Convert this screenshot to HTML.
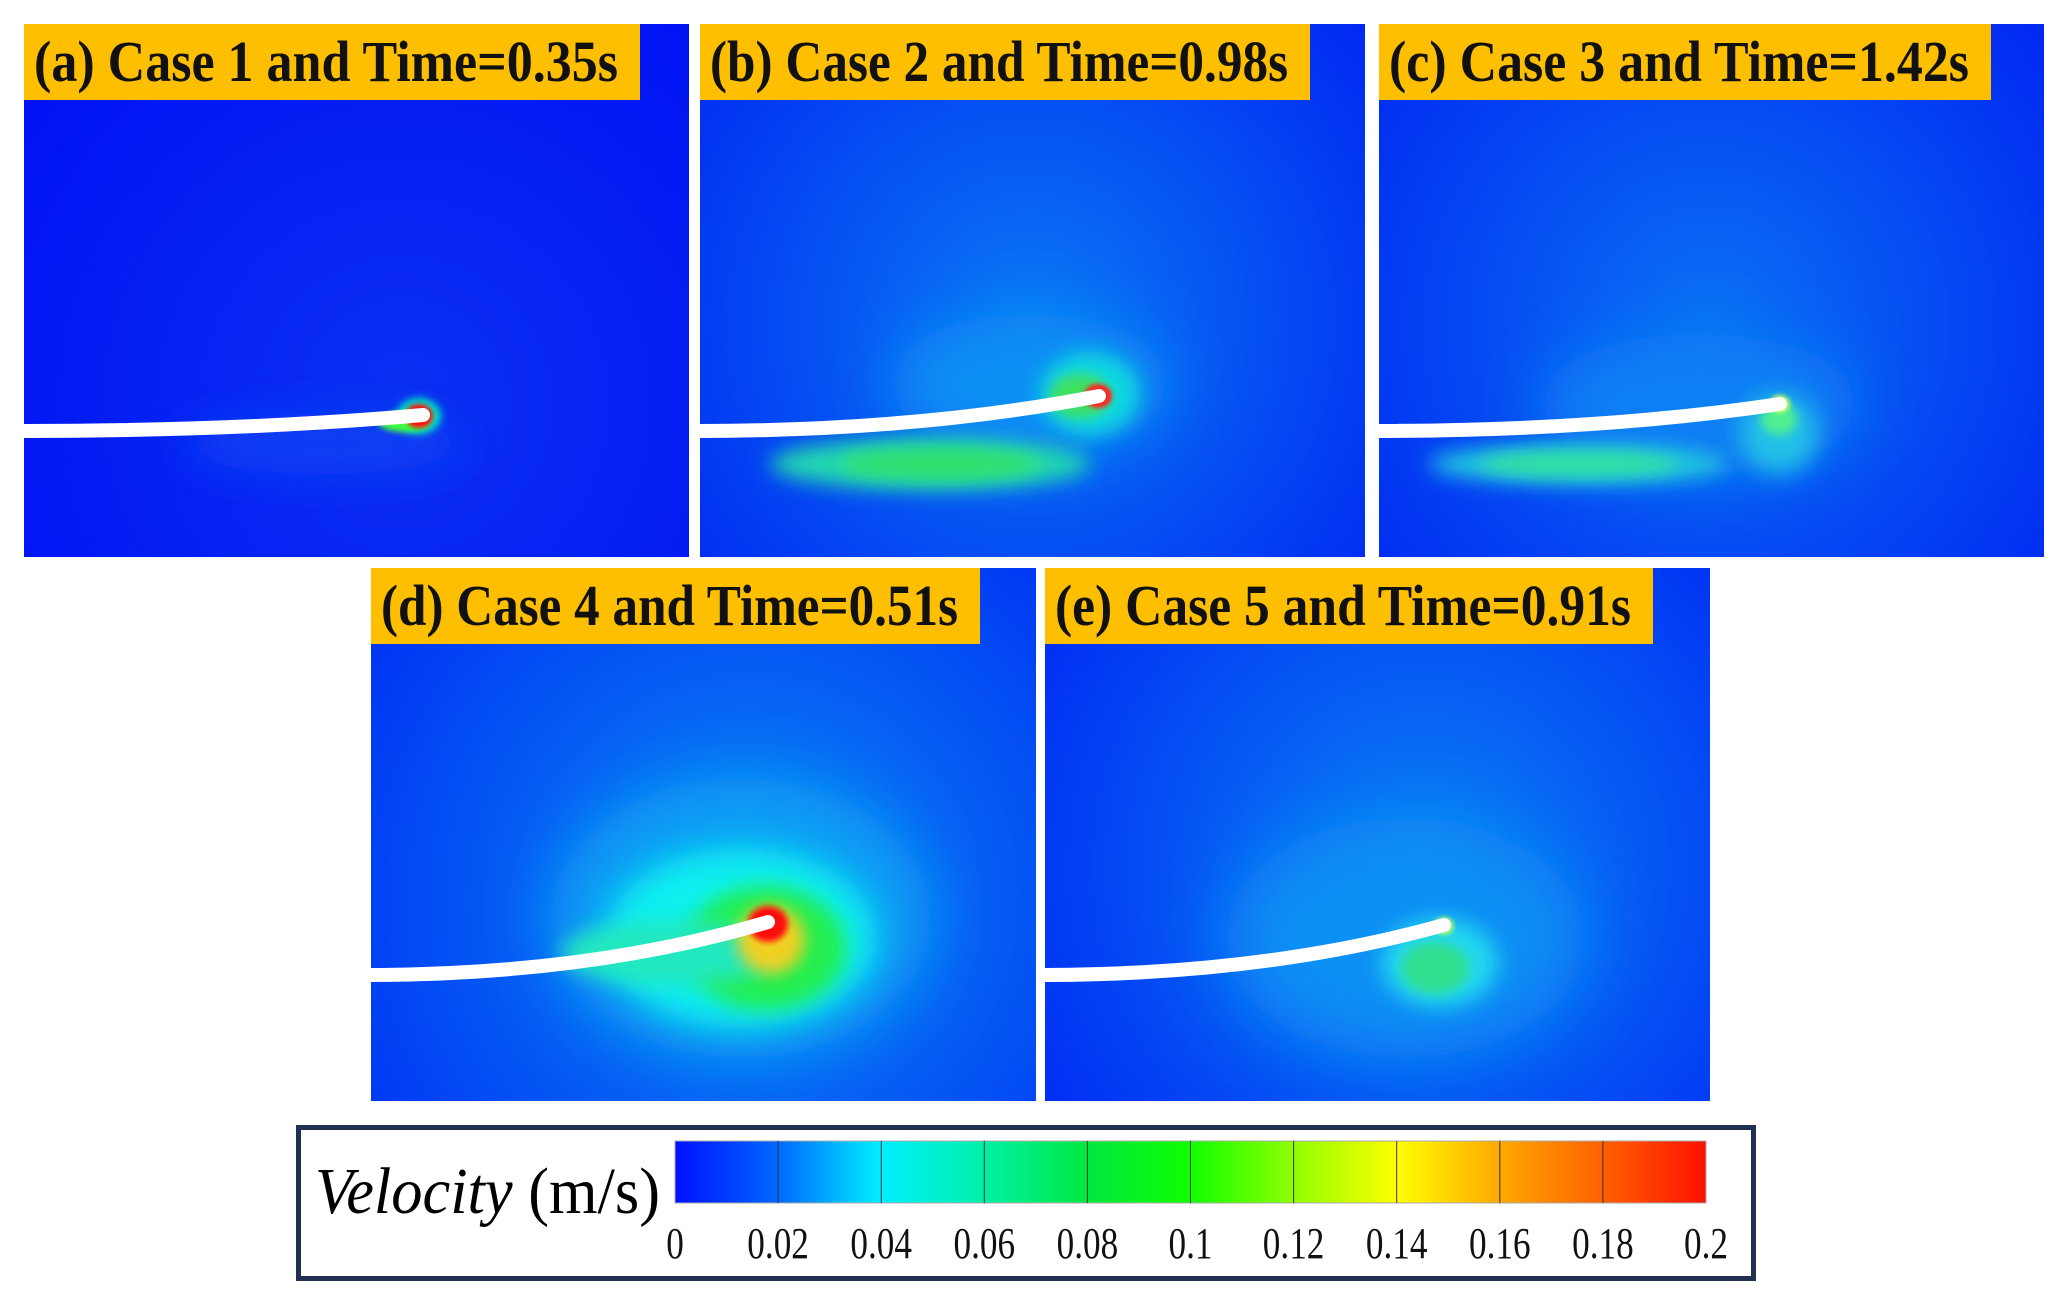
<!DOCTYPE html>
<html><head><meta charset="utf-8">
<style>
html,body{margin:0;padding:0;background:#fff;}
body{width:2060px;height:1308px;position:relative;overflow:hidden;font-family:"Liberation Serif",serif;}
.panel{position:absolute;width:665px;height:533px;overflow:hidden;}
.panel svg{position:absolute;left:0;top:0;}
.lbl{position:absolute;left:0;top:0;height:76px;background:#fdbf00;color:#111;white-space:nowrap;overflow:hidden;}
.lbl span{position:absolute;left:10px;top:4px;font-family:"Liberation Serif",serif;font-weight:bold;font-size:58px;line-height:68px;transform-origin:0 50%;display:inline-block;}
#legend{position:absolute;left:296px;top:1125px;width:1450px;height:146px;border:5px solid #1f3050;background:#fff;}
.fit{position:absolute;white-space:nowrap;transform-origin:0 50%;display:inline-block;}
</style></head>
<body>
<div id="panels"></div>
<div id="legend">
  <span class="fit" id="ltitle" style="left:14px;top:22px;font-size:66px;line-height:80px;"><i>Velocity</i> (m/s)</span>
  <svg id="cbar" width="1450" height="146" style="position:absolute;left:0;top:0"></svg>
</div>
<script>
const tickValues=[0,0.02,0.04,0.06,0.08,0.1,0.12,0.14,0.16,0.18,0.2];
const tickLabels=["0","0.02","0.04","0.06","0.08","0.1","0.12","0.14","0.16","0.18","0.2"];
const cmapStops=["#0010ff","#0068ff","#00f0ff","#00f0a8","#00e840","#10ff00","#90ff00","#ffff00","#ffa800","#ff6000","#ff1000"];
const vmin=0,vmax=0.2;
const NS="http://www.w3.org/2000/svg";
function mk(tag,attrs,parent){const e=document.createElementNS(NS,tag);for(const k in attrs)e.setAttribute(k,attrs[k]);if(parent)parent.appendChild(e);return e;}
const cb=document.getElementById('cbar');
const cbX0=374,cbX1=1405,cbY=11,cbH=62;
function xs(v){return cbX0+(v-vmin)/(vmax-vmin)*(cbX1-cbX0);}
const defs=mk('defs',{},cb);
const lg=mk('linearGradient',{id:'cmap',x1:'0',x2:'1',y1:'0',y2:'0'},defs);
cmapStops.forEach((c,i)=>mk('stop',{offset:(i/(cmapStops.length-1)),'stop-color':c},lg));
const rect=mk('rect',{x:cbX0,y:cbY,width:cbX1-cbX0,height:cbH,fill:'url(#cmap)',stroke:'#aaa','stroke-width':1},cb);


tickValues.forEach((v,i)=>{
  if(i>0&&i<tickValues.length-1){
    const l=mk('line',{x1:xs(v),x2:xs(v),y1:cbY,y2:cbY+cbH,stroke:'#333','stroke-width':1},cb);
    
    
  }
  const t=mk('text',{x:xs(v),y:cbY+cbH+55,'text-anchor':'middle','font-size':44,'font-family':'Liberation Serif, serif',fill:'#111',transform:`translate(${xs(v)},0) scale(0.8,1) translate(${-xs(v)},0)`},cb);
  t.textContent=tickLabels[i];
  
  
});
const panels=[
 {x:24,y:24,label:"(a) Case 1 and Time=0.35s",lw:616,tip:[399,391],base:["#0a30f2","#0012f4"],bc:[380,380],blobs:[[300,420,140,30,"#1040f4",20],[395,392,22,18,"#00e8c0",4],[380,398,26,10,"#40ff40",3],[395,392,14,12,"#ff1010",2]]},
 {x:700,y:24,label:"(b) Case 2 and Time=0.98s",lw:610,tip:[399,372],base:["#0a78f4","#0022f2"],bc:[330,300],blobs:[[330,360,140,70,"#1090f4",30],[390,370,50,42,"#10d8e0",10],[230,440,160,26,"#20d8b0",10],[240,440,100,16,"#30e070",8],[380,372,30,22,"#40e060",6],[398,372,14,12,"#ff2020",2]]},
 {x:1379,y:24,label:"(c) Case 3 and Time=1.42s",lw:612,tip:[401,380],base:["#0a70f4","#0022f2"],bc:[330,300],blobs:[[320,380,160,70,"#1080f4",30],[200,440,150,20,"#20c8e0",10],[200,440,100,12,"#30e0a0",8],[400,410,40,40,"#20c0e8",12],[400,395,18,16,"#50f090",5],[401,380,10,9,"#c0ff60",2]]},
 {x:371,y:568,label:"(d) Case 4 and Time=0.51s",lw:609,tip:[397,354],base:["#0a88f4","#0030f4"],bc:[380,330],blobs:[[370,350,190,140,"#10a0f4",30],[370,370,135,90,"#10f0f0",16],[395,380,80,62,"#20ee50",10],[300,385,110,32,"#20e8c0",10],[400,372,34,34,"#f0d020",8],[397,356,20,18,"#ff1010",3]]},
 {x:1045,y:568,label:"(e) Case 5 and Time=0.91s",lw:608,tip:[399,357],base:["#0a80f4","#0028f4"],bc:[380,300],blobs:[[360,370,180,120,"#0a90f4",36],[395,395,58,44,"#20d8f0",10],[390,400,34,26,"#30e090",6],[399,358,10,9,"#a0ff70",2]]}
];
const host=document.getElementById('panels');
panels.forEach((p,i)=>{
  const d=document.createElement('div');
  d.className='panel';d.style.left=p.x+'px';d.style.top=p.y+'px';
  
  
  const s=mk('svg',{width:665,height:533});
  const df=mk('defs',{},s);
  const rg=mk('radialGradient',{id:'bg'+i,cx:p.bc[0],cy:p.bc[1],r:480,gradientUnits:'userSpaceOnUse'},df);
  mk('stop',{offset:0,'stop-color':p.base[0]},rg);mk('stop',{offset:1,'stop-color':p.base[1]},rg);
  mk('rect',{width:665,height:533,fill:'url(#bg'+i+')'},s);
  p.blobs.forEach((b,j)=>{
    const f=mk('filter',{id:'f'+i+'_'+j,x:'-100%',y:'-100%',width:'300%',height:'300%'},df);
    mk('feGaussianBlur',{stdDeviation:b[5]},f);
    const e=mk('ellipse',{cx:b[0],cy:b[1],rx:b[2],ry:b[3],fill:b[4],filter:'url(#f'+i+'_'+j+')'},s);
    
    
  });
  const y0=407,tx=p.tip[0],ty=p.tip[1];
  const path=mk('path',{d:`M-5,${y0} Q${tx*0.55},${y0} ${tx},${ty}`,stroke:'#fff','stroke-width':14,fill:'none','stroke-linecap':'round'},s);
  
  
  d.appendChild(s);
  const l=document.createElement('div');l.className='lbl';l.style.width=p.lw+'px';
  
  
  const sp=document.createElement('span');sp.textContent=p.label;
  
  
  l.appendChild(sp);
  d.appendChild(l);
  host.appendChild(d);
  const target=p.lw-32;
  const w=sp.getBoundingClientRect().width;
  sp.style.transform=`scaleX(${target/w})`;
});
const lt=document.getElementById('ltitle');
lt.style.transform=`scaleX(${345/lt.getBoundingClientRect().width})`;
</script>
</body></html>
